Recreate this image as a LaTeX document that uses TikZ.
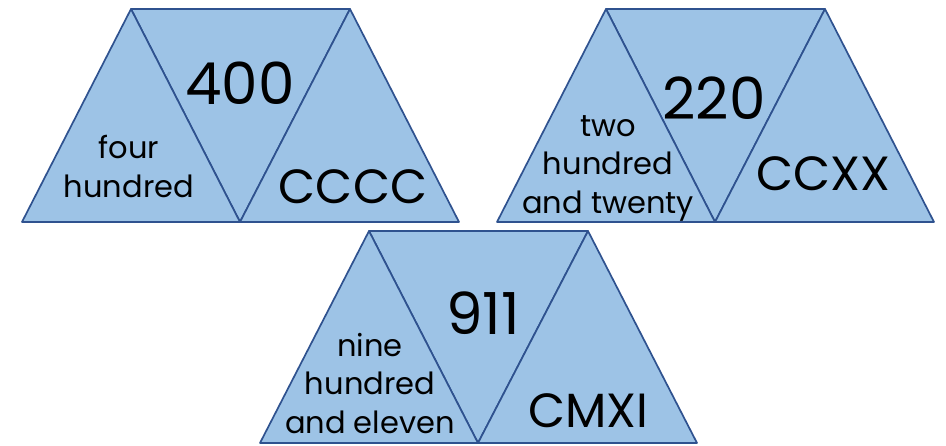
\documentclass[tikz,border=0pt]{standalone}
\usepackage{fontspec}
\setmainfont{Poppins}
\newfontfamily\tabnum[Numbers=Monospaced]{Poppins}
\definecolor{trifill}{HTML}{9DC3E6}
\definecolor{triline}{HTML}{2F528F}
\begin{document}
\begin{tikzpicture}[x=1pt,y=-1pt,
  tri/.style={fill=trifill,draw=triline,line width=1.7pt,line join=round},
  big/.style={inner sep=0pt,font=\tabnum\fontsize{58}{58}\selectfont},
  roman/.style={inner sep=0pt,font=\fontsize{48}{48}\selectfont},
  words/.style={inner sep=0pt,align=center,anchor=base,font=\fontsize{30.5}{38.5}\selectfont}]
\useasboundingbox (0,0) rectangle (946,445);
% group 1
\coordinate (a1) at (22,222); \coordinate (a2) at (240,222); \coordinate (a3) at (459,222);
\coordinate (a4) at (131,9); \coordinate (a5) at (350,9);
\draw[tri] (a4) -- (a5) -- (a2) -- cycle;
\draw[tri] (a1) -- (a2) -- (a4) -- cycle;
\draw[tri] (a2) -- (a3) -- (a5) -- cycle;
\node[big] (n400) at (240,83) {400};
\node[words] (w400) at (129,197) {four\\hundred};
\node[roman] (r400) at (353,187) {CCCC};
% group 2
\coordinate (b1) at (497,222); \coordinate (b2) at (715,222); \coordinate (b3) at (934,222);
\coordinate (b4) at (606,9); \coordinate (b5) at (825,9);
\draw[tri] (b4) -- (b5) -- (b2) -- cycle;
\draw[tri] (b1) -- (b2) -- (b4) -- cycle;
\draw[tri] (b2) -- (b3) -- (b5) -- cycle;
\node[big] (n220) at (714,98) {220};
\node[words] (w220) at (608,213) {two\\hundred\\and twenty};
\node[roman] (r220) at (823,174) {CCXX};
% group 3
\coordinate (c1) at (260,443); \coordinate (c2) at (478,443); \coordinate (c3) at (697,443);
\coordinate (c4) at (369,231); \coordinate (c5) at (588,231);
\draw[tri] (c4) -- (c5) -- (c2) -- cycle;
\draw[tri] (c1) -- (c2) -- (c4) -- cycle;
\draw[tri] (c2) -- (c3) -- (c5) -- cycle;
\node[big] (n911) at (483,313) {911};
\node[words] (w911) at (370,433) {nine\\hundred\\and eleven};
\node[roman] (r911) at (588,411) {CMXI};
\end{tikzpicture}
\end{document}
